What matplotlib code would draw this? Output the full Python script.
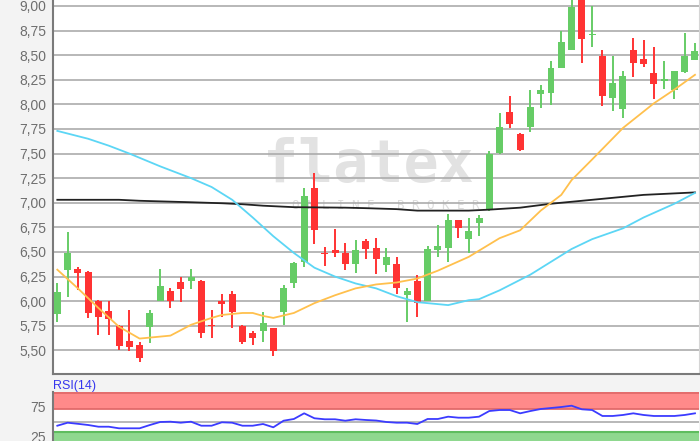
"""
plot.py: candlestick chart with moving averages and RSI panel.
"""

import matplotlib.pyplot as plt

plt.rcParams['font.family'] = ['Liberation Sans', 'DejaVu Sans']

FIG_SIZE = (7.0, 4.41)
UP_COLOR = '#66cc66'
DOWN_COLOR = '#ff3333'
GRID_COLOR = '#ababab'
LABEL_COLOR = '#6e6e6e'

# daily candles (price)
opens = [5.87, 6.32, 6.33, 6.30, 6.00, 5.90, 5.75, 5.60, 5.55, 5.74,
         6.00, 6.10, 6.19, 6.20, 6.21, 5.76, 6.00, 6.07, 5.75, 5.68,
         5.70, 5.73, 5.89, 6.18, 6.40, 7.15, 6.49, 6.52, 6.49, 6.38,
         6.61, 6.54, 6.37, 6.38, 6.06, 6.20, 6.00, 6.52, 6.54, 6.82,
         6.63, 6.79, 6.93, 7.51, 7.92, 7.70, 7.77, 8.11, 8.12, 8.37,
         8.55, 9.10, 8.70, 8.49, 8.06, 7.95, 8.55, 8.46, 8.32, 8.24,
         8.15, 8.33, 8.45]
highs = [6.18, 6.70, 6.35, 6.31, 6.01, 6.00, 5.76, 5.91, 5.59, 5.91,
         6.33, 6.13, 6.25, 6.33, 6.22, 5.91, 6.07, 6.10, 5.76, 5.70,
         5.89, 5.73, 6.16, 6.40, 7.15, 7.30, 6.55, 6.73, 6.59, 6.62,
         6.63, 6.64, 6.54, 6.45, 6.13, 6.27, 6.56, 6.77, 6.89, 6.82,
         6.84, 6.88, 7.53, 7.91, 8.08, 7.71, 8.15, 8.20, 8.44, 8.74,
         9.06, 9.12, 9.00, 8.55, 8.49, 8.34, 8.67, 8.65, 8.58, 8.44,
         8.34, 8.72, 8.62]
lows = [5.79, 6.04, 6.11, 5.83, 5.66, 5.66, 5.50, 5.49, 5.38, 5.58,
        6.00, 5.93, 5.99, 6.12, 5.63, 5.63, 5.84, 5.73, 5.56, 5.55,
        5.59, 5.44, 5.76, 6.13, 6.35, 6.58, 6.36, 6.45, 6.32, 6.29,
        6.43, 6.28, 6.30, 6.07, 5.79, 5.84, 6.00, 6.45, 6.40, 6.64,
        6.49, 6.66, 6.92, 7.50, 7.76, 7.53, 7.72, 7.96, 7.99, 8.37,
        8.55, 8.42, 8.58, 7.98, 7.93, 7.86, 8.28, 8.38, 8.05, 8.16,
        8.05, 8.32, 8.45]
closes = [6.09, 6.49, 6.29, 5.88, 5.84, 5.82, 5.54, 5.53, 5.42, 5.88,
          6.15, 6.00, 6.12, 6.25, 5.68, 5.75, 5.97, 5.89, 5.59, 5.63,
          5.78, 5.49, 6.13, 6.39, 7.07, 6.72, 6.48, 6.49, 6.38, 6.52,
          6.53, 6.43, 6.45, 6.13, 6.10, 5.98, 6.53, 6.56, 6.82, 6.74,
          6.71, 6.84, 7.50, 7.77, 7.80, 7.54, 7.97, 8.15, 8.37, 8.63,
          8.99, 8.66, 8.71, 8.08, 8.22, 8.29, 8.42, 8.41, 8.21, 8.26,
          8.34, 8.49, 8.54]

# moving averages, read at some candle positions
ma_short_idx = [0, 2, 4, 6, 8, 11, 13, 15, 16, 18, 19, 20, 21, 23, 25, 27,
                29, 31, 33, 35, 37, 40, 43, 45, 47, 49, 50, 52, 55, 58, 60, 62]
ma_short = [6.32, 6.13, 5.93, 5.74, 5.62, 5.65, 5.76, 5.83, 5.86, 5.88,
            5.88, 5.85, 5.83, 5.88, 5.98, 6.06, 6.13, 6.17, 6.19, 6.23,
            6.31, 6.45, 6.64, 6.72, 6.92, 7.08, 7.23, 7.44, 7.76, 8.01,
            8.15, 8.30]
ma_mid_idx = [0, 3, 5, 7, 10, 13, 15, 17, 19, 21, 23, 25, 27, 29, 31, 33,
              35, 38, 40, 41, 43, 46, 48, 50, 52, 55, 57, 60, 62]
ma_mid = [7.73, 7.65, 7.58, 7.50, 7.37, 7.25, 7.16, 7.03, 6.85, 6.66,
          6.49, 6.34, 6.25, 6.18, 6.13, 6.05, 5.99, 5.96, 6.01, 6.02,
          6.11, 6.27, 6.40, 6.53, 6.63, 6.74, 6.85, 6.99, 7.10]
ma_long_idx = [0, 6, 8, 13, 16, 18, 20, 23, 28, 30, 33, 35, 40, 42, 45, 48,
               52, 57, 62]
ma_long = [7.03, 7.03, 7.02, 7.005, 6.995, 6.985, 6.97, 6.955, 6.95, 6.945,
           6.935, 6.92, 6.92, 6.93, 6.95, 6.99, 7.03, 7.08, 7.105]

rsi = [43.2, 48.3, 46.4, 44.4, 41.5, 41.5, 38.8, 38.8, 38.8, 44.4,
       49.5, 50.0, 48.3, 50.0, 43.2, 43.2, 49.0, 48.3, 43.2, 43.2,
       46.1, 40.5, 51.7, 54.6, 64.2, 55.8, 54.1, 54.1, 51.7, 54.1,
       52.9, 52.0, 49.5, 48.3, 48.3, 46.1, 54.6, 54.6, 58.5, 56.8,
       56.8, 58.5, 68.1, 69.8, 69.8, 64.2, 68.1, 71.5, 73.2, 74.9,
       77.1, 71.0, 69.8, 59.7, 59.7, 61.4, 64.2, 61.4, 59.7, 59.7,
       59.7, 61.4, 64.2]

price_tick_labels = ['5,50', '5,75', '6,00', '6,25', '6,50', '6,75', '7,00', '7,25',
                     '7,50', '7,75', '8,00', '8,25', '8,50', '8,75', '9,00']
rsi_tick_labels = ['25', '75']

W, H = 700, 441

fig = plt.figure(figsize=FIG_SIZE, dpi=100, facecolor='#f3f3f3')

# main price panel, reaches up to the top edge of the image
ax = fig.add_axes([53 / W, 67 / H, 646 / W, 374 / H])
ax.set_facecolor('white')
ax.set_xlim(-0.42, 62.39)
ax.set_ylim(5.26, 9.06)

# watermark
ax.text(0.488, 0.513, 'flatex', transform=ax.transAxes, ha='center', va='baseline',
        fontsize=42, fontweight='bold', family='DejaVu Sans Mono', color='#e2e2e2', zorder=0.3)
ax.text(0.515, 0.441, 'O N L I N E   B R O K E R', transform=ax.transAxes, ha='center',
        va='baseline', fontsize=9, family='DejaVu Sans Mono', color='#dcdcdc', zorder=0.3)

idx = list(range(len(opens)))
colors = [UP_COLOR if c >= o else DOWN_COLOR for o, c in zip(opens, closes)]
bottoms = [min(o, c) for o, c in zip(opens, closes)]
heights = [max(abs(c - o), 0.012) for o, c in zip(opens, closes)]

ax.vlines(idx, lows, highs, colors=colors, lw=1.4, zorder=3)
ax.bar(idx, heights, bottom=bottoms, width=0.68, color=colors, zorder=4)

ax.plot(ma_long_idx, ma_long, color='#222222', lw=1.3, zorder=5)
ax.plot(ma_mid_idx, ma_mid, color='#5cd6f5', lw=1.3, zorder=5)
ax.plot(ma_short_idx, ma_short, color='#ffc04d', lw=1.3, zorder=5)

price_ticks = [float(t.replace(',', '.')) for t in price_tick_labels]
ax.set_yticks(price_ticks)
ax.set_yticklabels(price_tick_labels)
ax.set_xticks([])
ax.tick_params(axis='y', length=0, pad=5, labelsize=10, labelcolor=LABEL_COLOR)
ax.set_axisbelow(True)
ax.yaxis.grid(True, color=GRID_COLOR, lw=1.2)

for side in ['left', 'bottom']:
    ax.spines[side].set_color('#7a7a7a')
    ax.spines[side].set_linewidth(1.5)
ax.spines['top'].set_visible(False)
ax.spines['right'].set_color('#d5d5d5')

# RSI panel, cut by the bottom of the image
rax = fig.add_axes([53 / W, -10.2 / H, 646 / W, 59 / H])
rax.set_facecolor('white')
rax.set_xlim(-0.42, 62.39)
rax.set_ylim(0, 100)

rax.axhspan(71, 100, color='#ff8a8a', lw=0, zorder=1)
rax.axhline(71, color='#e26a6a', lw=1.3, zorder=2)
rax.axhline(99.3, color='#e26a6a', lw=1.3, zorder=2)
rax.axhspan(0, 33, color='#8fd88f', lw=0, zorder=1)
rax.axhline(33, color='#5fbd5f', lw=1.5, zorder=2)
rax.axhline(50, color=GRID_COLOR, lw=1.2, zorder=2)

rax.plot(idx, rsi, color='#3b3bff', lw=1.3, zorder=3)

rax.set_yticks([float(t) for t in rsi_tick_labels])
rax.set_yticklabels(rsi_tick_labels)
rax.set_xticks([])
rax.tick_params(axis='y', length=0, pad=5, labelsize=10, labelcolor=LABEL_COLOR)
rax.spines['left'].set_color('#7a7a7a')
rax.spines['left'].set_linewidth(1.5)
for side in ['top', 'right', 'bottom']:
    rax.spines[side].set_visible(False)

fig.text(53 / W, (H - 385.5) / H, 'RSI(14)', color='#3535ee', fontsize=9, va='center')

fig.savefig('out.png', dpi=100, facecolor=fig.get_facecolor())
